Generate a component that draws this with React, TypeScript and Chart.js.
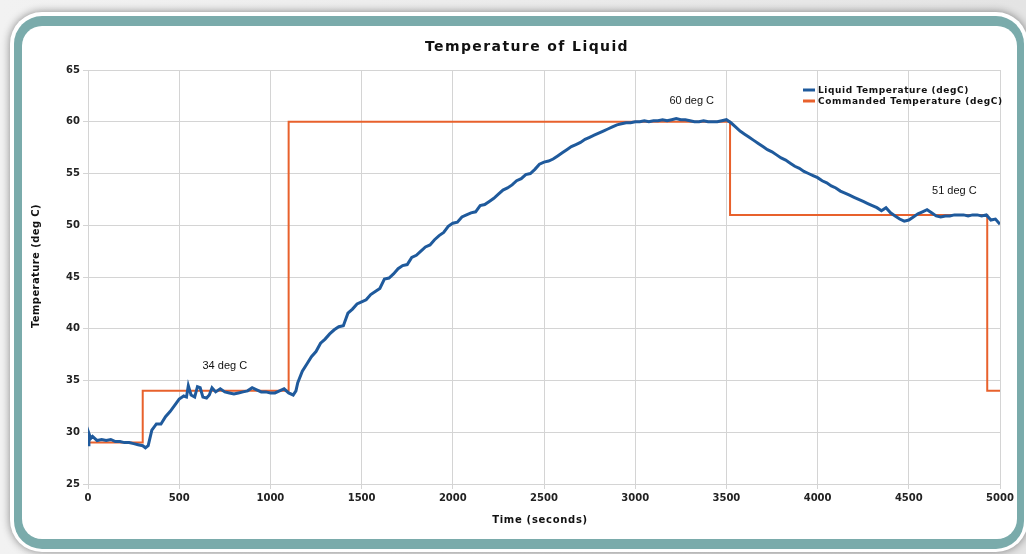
import React, { useEffect, useRef } from "react";
import { Chart, registerables } from "chart.js";

Chart.register(...registerables);

// Liquid temperature samples: [time (s), degC]
const liquidTemp: [number, number][] = [
  [0, 28.8], [5, 29.9], [15, 29.4], [25, 29.6], [50, 29.2], [75, 29.3], [100, 29.2],
  [125, 29.3], [150, 29.1], [175, 29.1], [200, 29.0], [225, 29.0], [250, 28.9],
  [275, 28.8], [300, 28.7], [315, 28.5], [330, 28.7], [350, 30.2], [375, 30.8],
  [400, 30.8], [425, 31.5], [450, 32.0], [475, 32.6], [500, 33.2], [525, 33.5],
  [540, 33.4], [550, 34.5], [565, 33.6], [585, 33.4], [600, 34.4], [615, 34.3],
  [630, 33.4], [650, 33.3], [665, 33.6], [680, 34.3], [700, 33.9], [725, 34.2],
  [750, 33.9], [775, 33.8], [800, 33.7], [825, 33.8], [850, 33.9], [875, 34.0],
  [900, 34.3], [925, 34.1], [950, 33.9], [975, 33.9], [1000, 33.8], [1025, 33.8],
  [1050, 34.0], [1075, 34.2], [1100, 33.8], [1125, 33.6], [1140, 34.0], [1150, 34.8],
  [1175, 35.9], [1200, 36.6], [1225, 37.3], [1250, 37.8], [1275, 38.6], [1300, 39.0],
  [1325, 39.5], [1350, 39.9], [1375, 40.2], [1400, 40.3], [1425, 41.5], [1450, 41.9],
  [1475, 42.4], [1500, 42.6], [1525, 42.8], [1550, 43.3], [1575, 43.6], [1600, 43.9],
  [1625, 44.8], [1650, 44.9], [1675, 45.3], [1700, 45.8], [1725, 46.1], [1750, 46.2],
  [1775, 46.9], [1800, 47.1], [1825, 47.5], [1850, 47.9], [1875, 48.1], [1900, 48.6],
  [1925, 49.0], [1950, 49.3], [1975, 49.9], [2000, 50.2], [2025, 50.3], [2050, 50.8],
  [2075, 51.0], [2100, 51.2], [2125, 51.3], [2150, 51.9], [2175, 52.0], [2200, 52.3],
  [2225, 52.6], [2250, 53.0], [2275, 53.4], [2300, 53.6], [2325, 53.9], [2350, 54.3],
  [2375, 54.5], [2400, 54.9], [2425, 55.0], [2450, 55.4], [2475, 55.9], [2500, 56.1],
  [2525, 56.2], [2550, 56.4], [2575, 56.7], [2600, 57.0], [2625, 57.3], [2650, 57.6],
  [2675, 57.8], [2700, 58.0], [2725, 58.3], [2750, 58.5], [2775, 58.7], [2800, 58.9],
  [2825, 59.1], [2850, 59.3], [2875, 59.5], [2900, 59.7], [2925, 59.8], [2950, 59.9],
  [2975, 59.9], [3000, 60.0], [3025, 60.0], [3050, 60.1], [3075, 60.0], [3100, 60.1],
  [3125, 60.1], [3150, 60.2], [3175, 60.1], [3200, 60.2], [3225, 60.3], [3250, 60.2],
  [3275, 60.2], [3300, 60.1], [3325, 60.0], [3350, 60.0], [3375, 60.1], [3400, 60.0],
  [3425, 60.0], [3450, 60.0], [3475, 60.1], [3500, 60.2], [3525, 59.9], [3550, 59.5],
  [3575, 59.1], [3600, 58.8], [3625, 58.5], [3650, 58.2], [3675, 57.9], [3700, 57.6],
  [3725, 57.3], [3750, 57.1], [3775, 56.8], [3800, 56.5], [3825, 56.3], [3850, 56.0],
  [3875, 55.7], [3900, 55.5], [3925, 55.2], [3950, 55.0], [3975, 54.8], [4000, 54.6],
  [4025, 54.3], [4050, 54.1], [4075, 53.8], [4100, 53.6], [4125, 53.3], [4150, 53.1],
  [4175, 52.9], [4200, 52.7], [4225, 52.5], [4250, 52.3], [4275, 52.1], [4300, 51.9],
  [4325, 51.7], [4350, 51.4], [4375, 51.7], [4400, 51.2], [4425, 50.9], [4450, 50.6],
  [4475, 50.4], [4500, 50.5], [4525, 50.8], [4550, 51.1], [4575, 51.3], [4600, 51.5],
  [4625, 51.2], [4650, 50.9], [4675, 50.8], [4700, 50.9], [4725, 50.9], [4750, 51.0],
  [4775, 51.0], [4800, 51.0], [4825, 50.9], [4850, 51.0], [4875, 51.0], [4900, 50.9],
  [4925, 51.0], [4950, 50.5], [4975, 50.6], [5000, 50.1],
];

// Commanded temperature step profile: [time (s), degC]
const commandedTemp: [number, number][] = [
  [0, 29], [300, 29], [300, 34], [1100, 34], [1100, 60], [3520, 60],
  [3520, 51], [4930, 51], [4930, 34], [5000, 34],
];

const seriesNames = ["Liquid Temperature (degC)", "Commanded Temperature (degC)"];
const seriesColors = ["#1f5a9c", "#e8612c"];

const annotationLabels = ["34 deg C", "60 deg C", "51 deg C"];
const annotationTimes = [750, 3310, 4750];
const annotationTemps = [36.4, 62.0, 53.3];

const chartTitle = "Temperature of Liquid";
const xTitle = "Time (seconds)";
const yTitle = "Temperature (deg C)";

const textPlugin = {
  id: "customText",
  afterDraw(chart: any) {
    const ctx = chart.ctx as any;
    const xs = chart.scales.x;
    const ys = chart.scales.y;
    ctx.save();
    ctx.fillStyle = "#111";
    ctx.textAlign = "center";
    ctx.textBaseline = "middle";
    ctx.font = "bold 14px 'DejaVu Sans'";
    ctx.letterSpacing = "1.4px";
    ctx.fillText(chartTitle, 527, 47);
    ctx.font = "bold 10px 'DejaVu Sans'";
    ctx.letterSpacing = "0.7px";
    ctx.fillText(xTitle, 540, 520);
    ctx.save();
    ctx.translate(36, 266);
    ctx.rotate(-Math.PI / 2);
    ctx.letterSpacing = "0.4px";
    ctx.fillText(yTitle, 0, 0);
    ctx.restore();

    // annotations
    ctx.letterSpacing = "0px";
    ctx.font = "11px 'Liberation Sans'";
    annotationLabels.forEach((lbl, i) => {
      ctx.fillText(lbl, xs.getPixelForValue(annotationTimes[i]), ys.getPixelForValue(annotationTemps[i]));
    });

    // legend
    ctx.textAlign = "left";
    ctx.font = "bold 9px 'DejaVu Sans'";
    ctx.letterSpacing = "0.6px";
    seriesNames.forEach((name, i) => {
      const y = 90 + i * 11;
      ctx.strokeStyle = seriesColors[i];
      ctx.lineWidth = 3;
      ctx.beginPath();
      ctx.moveTo(803, y);
      ctx.lineTo(815, y);
      ctx.stroke();
      ctx.fillStyle = "#111";
      ctx.fillText(name, 818, y + 0.5);
    });
    ctx.letterSpacing = "0px";
    ctx.restore();
  },
};

export default function App() {
  const ref = useRef<HTMLCanvasElement | null>(null);
  useEffect(() => {
    if (!ref.current) return;
    const tickFont = { family: "DejaVu Sans", weight: "bold" as const, size: 10 };
    const chart = new Chart(ref.current, {
      type: "scatter",
      data: {
        datasets: [
          {
            label: seriesNames[0],
            data: liquidTemp.map(([x, y]) => ({ x, y })),
            showLine: true,
            borderColor: seriesColors[0],
            borderWidth: 3,
            pointRadius: 0,
            tension: 0,
          },
          {
            label: seriesNames[1],
            data: commandedTemp.map(([x, y]) => ({ x, y })),
            showLine: true,
            borderColor: seriesColors[1],
            borderWidth: 2,
            pointRadius: 0,
            tension: 0,
          },
        ],
      },
      options: {
        responsive: false,
        animation: false,
        layout: { padding: { left: 30, right: 26, top: 70, bottom: 50 } },
        plugins: { legend: { display: false }, tooltip: { enabled: false }, title: { display: false } },
        scales: {
          x: {
            type: "linear",
            min: 0,
            max: 5000,
            afterFit: (s: any) => { s.height = 20; },
            ticks: { stepSize: 500, color: "#222", padding: 3, font: tickFont, callback: (v: any) => String(v) },
            grid: { color: "#d4d4d4", tickLength: 5 },
            border: { color: "#d4d4d4" },
          },
          y: {
            type: "linear",
            min: 25,
            max: 65,
            afterFit: (s: any) => { s.width = 58; },
            ticks: { stepSize: 5, color: "#222", padding: 3, font: tickFont, callback: (v: any) => String(v) },
            grid: { color: "#d4d4d4", tickLength: 5 },
            border: { color: "#d4d4d4" },
          },
        },
      },
      plugins: [textPlugin],
    });
    return () => chart.destroy();
  }, []);

  return (
    <div style={{ position: "absolute", left: 0, top: 0, width: 1026, height: 554, overflow: "hidden", background: "linear-gradient(90deg, #f2f2f2, #e4e4e4)" }}>
      <div style={{ position: "absolute", left: 10, top: 12, width: 1018, height: 540, borderRadius: 32, background: "#ffffff", boxShadow: "0 0 8px rgba(0,0,0,0.45)" }} />
      <div style={{ position: "absolute", left: 14, top: 16, width: 1010, height: 533, borderRadius: 28, background: "#7aabab" }} />
      <div style={{ position: "absolute", left: 22, top: 26, width: 995, height: 513, borderRadius: 20, background: "#ffffff" }} />
      <canvas ref={ref} width={1026} height={554} style={{ position: "absolute", left: 0, top: 0, width: 1026, height: 554 }} />
    </div>
  );
}
